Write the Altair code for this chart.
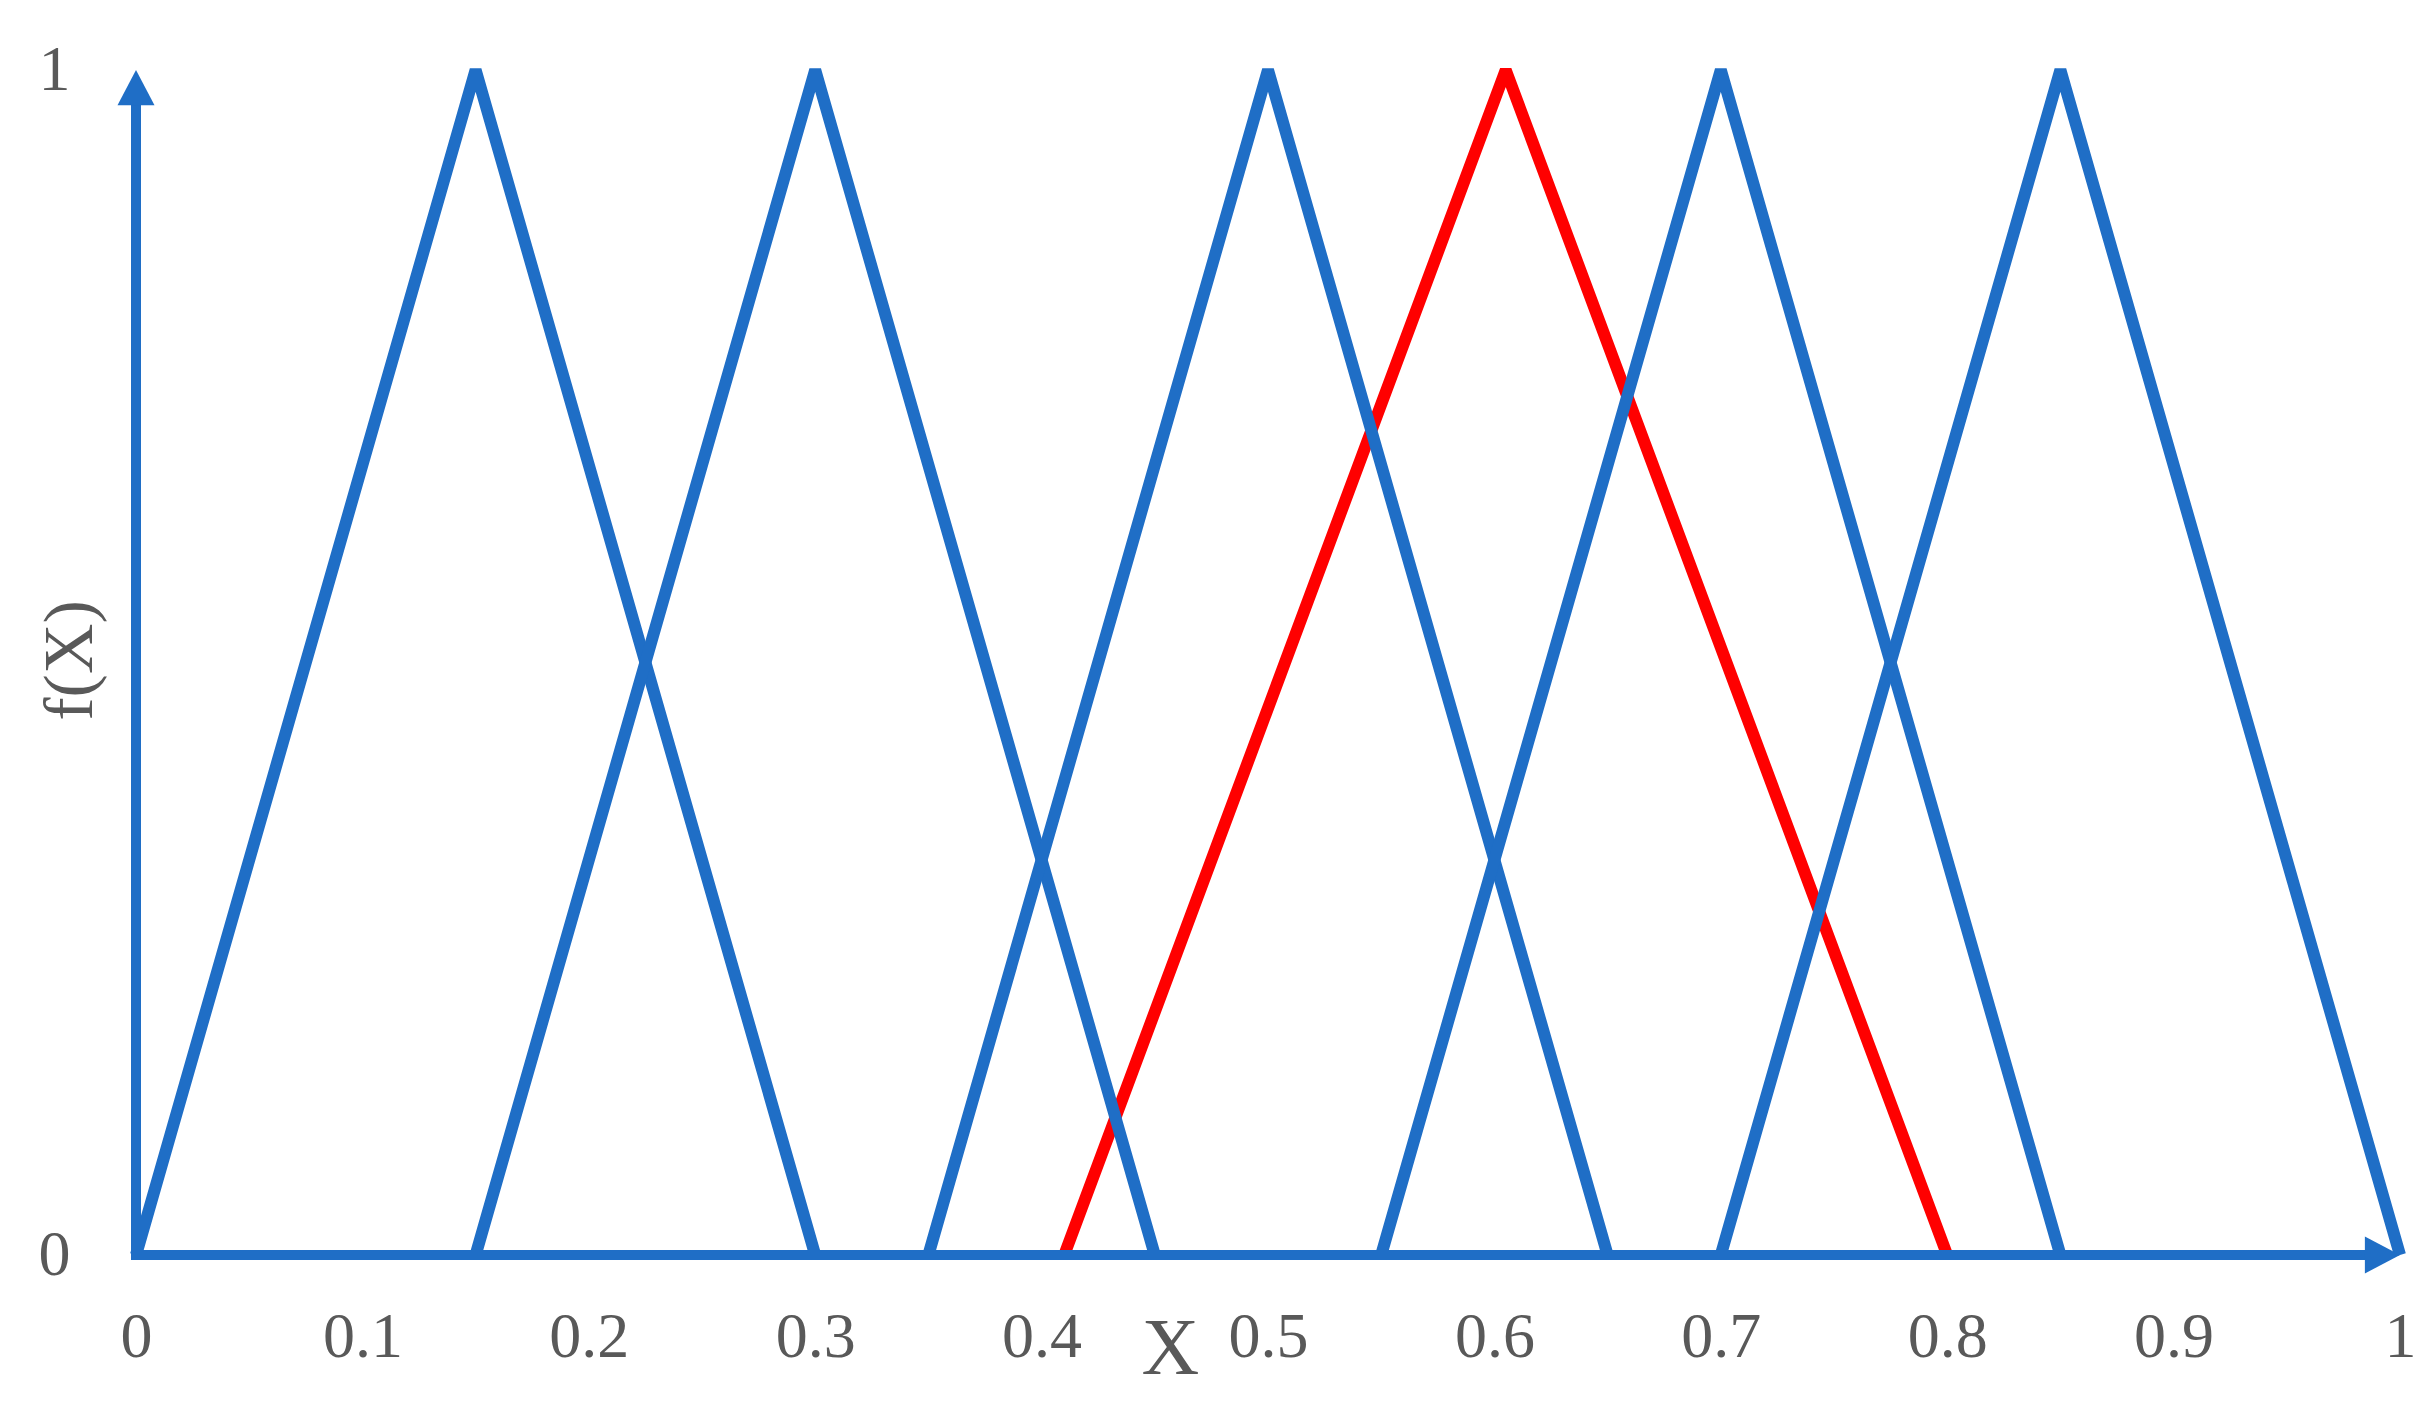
import altair as alt
import pandas as pd

# ---- data ----
tri_names = ["A1", "A2", "A3", "A4", "A5", "A6"]
tri_left = [0.00, 0.15, 0.35, 0.41, 0.55, 0.70]
tri_peak = [0.15, 0.30, 0.50, 0.605, 0.70, 0.85]
tri_right = [0.30, 0.45, 0.65, 0.80, 0.85, 1.00]
tri_is_red = [False, False, False, True, False, False]

x_ticks = [0, 0.1, 0.2, 0.3, 0.4, 0.5, 0.6, 0.7, 0.8, 0.9, 1]
y_ticks = [0, 1]

# axis polyline (top of y axis -> origin -> end of x axis), stopping short of the arrow tips
axis_path_x = [0.0, 0.0, 0.992]
axis_path_y = [0.985, 0.0, 0.0]
arrow_x_tip = (1.0, 0.0)
arrow_y_tip = (0.0, 1.0)

BLUE = "#1f6ec6"
RED = "#ff0000"
GREY = "#595959"
FONT = "Liberation Serif"

rows = []
for n, l, p, r, red in zip(tri_names, tri_left, tri_peak, tri_right, tri_is_red):
    for i, (xv, yv) in enumerate([(l, 0), (p, 1), (r, 0)]):
        rows.append({"name": n, "x": xv, "y": yv, "o": i, "red": red})
tri = pd.DataFrame(rows)

xs = alt.Scale(domain=[0, 1], nice=False, zero=False)
ys = alt.Scale(domain=[0, 1], nice=False, zero=False)

x_axis = alt.Axis(values=x_ticks, format=".1~f", title="X",
                  titleX=1034, titleY=94, titleAngle=0,
                  titleBaseline="middle", titleAlign="center",
                  titleFontSize=80, labelPadding=50)
y_axis = alt.Axis(values=y_ticks, format=".1~f", title="f(X)",
                  titleX=-66, titleY=590, titleAngle=-90,
                  titleBaseline="middle", titleAlign="center",
                  titleFontSize=70, labelPadding=66)

X = alt.X("x:Q", scale=xs, axis=x_axis)
Y = alt.Y("y:Q", scale=ys, axis=y_axis)

red_layer = alt.Chart(tri[tri["red"]]).mark_line(
    color=RED, strokeWidth=12, strokeJoin="bevel", strokeCap="butt"
).encode(x=X, y=Y, detail="name:N", order="o:Q")

blue_layer = alt.Chart(tri[~tri["red"]]).mark_line(
    color=BLUE, strokeWidth=12, strokeJoin="bevel", strokeCap="butt"
).encode(x=X, y=Y, detail="name:N", order="o:Q")

axis_lines = pd.DataFrame({
    "x": axis_path_x,
    "y": axis_path_y,
    "o": list(range(len(axis_path_x))),
})
axis_line_layer = alt.Chart(axis_lines).mark_line(
    color=BLUE, strokeWidth=10, strokeCap="butt", strokeJoin="miter"
).encode(x=X, y=Y, order="o:Q")

arrow_x = alt.Chart(pd.DataFrame({"x": [arrow_x_tip[0]], "y": [arrow_x_tip[1]]})).mark_point(
    shape="M0,0 L-1.9,-1 L-1.9,1 Z", filled=True, opacity=1, color=BLUE, size=1369, strokeWidth=0
).encode(x=X, y=Y)

arrow_y = alt.Chart(pd.DataFrame({"x": [arrow_y_tip[0]], "y": [arrow_y_tip[1]]})).mark_point(
    shape="M0,0 L1,1.9 L-1,1.9 Z", filled=True, opacity=1, color=BLUE, size=1369, strokeWidth=0
).encode(x=X, y=Y)

chart = alt.layer(
    red_layer, blue_layer, axis_line_layer, arrow_x, arrow_y
).properties(
    width=2264, height=1185,
    autosize=alt.AutoSizeParams(type="none"),
    padding={"left": 128, "top": 62, "right": 20, "bottom": 120},
    background="white",
).configure_view(stroke=None).configure_axis(
    domain=False, ticks=False, grid=False,
    labelFont=FONT, labelFontSize=64, labelColor=GREY,
    labelFlush=False, labelOverlap=False,
    titleFont=FONT, titleColor=GREY, titleFontWeight="normal",
)

chart.save("out.html", embed_options={"renderer": "svg", "actions": False})
